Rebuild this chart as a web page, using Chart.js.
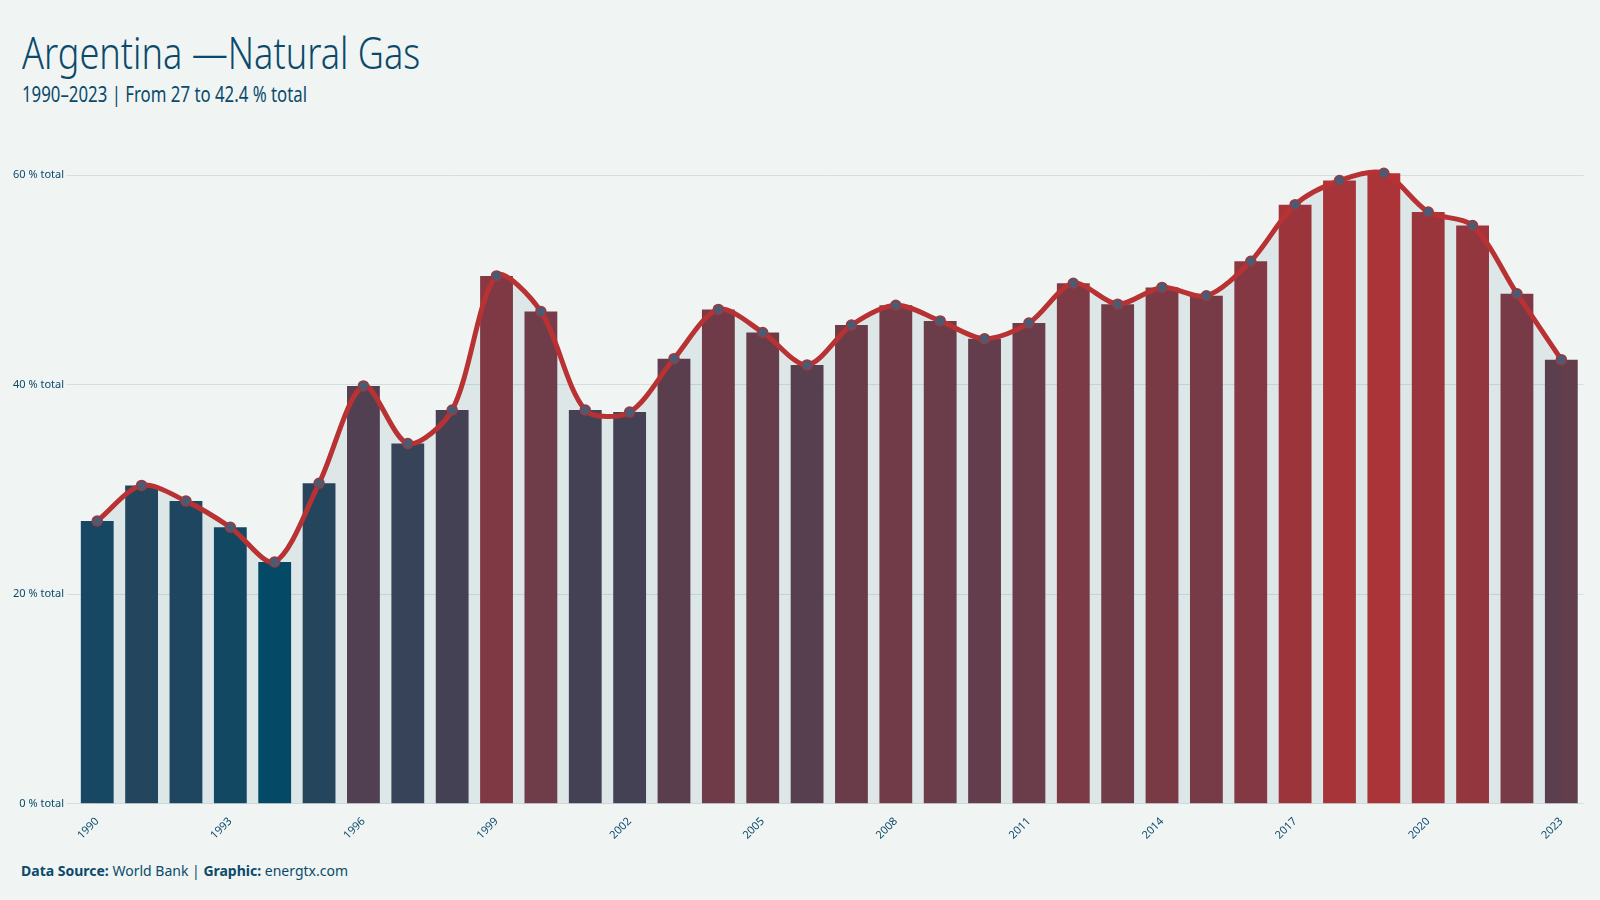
<!DOCTYPE html>
<html><head><meta charset="utf-8">
<script src="https://cdn.jsdelivr.net/npm/chart.js@4.4.0/dist/chart.umd.min.js"></script>
<style>
html,body{margin:0;padding:0;background:#f0f5f4;width:1600px;height:900px;overflow:hidden;font-family:"Noto Sans",sans-serif;color:#0b4a6b}
#title{position:absolute;left:22px;top:22px;font-size:44px;color:#0b4a6b;transform:scaleX(0.82);transform-origin:left top;font-weight:300}
#sub{position:absolute;left:22px;top:80px;font-size:21px;color:#0b4a6b;transform:scaleX(0.8);transform-origin:left top}
#wrap{position:absolute;left:10px;top:150px;width:1580px;height:695px}
#foot{position:absolute;left:21px;top:861px;font-size:14px;color:#0b4a6b}
</style></head><body>
<div id="title">Argentina —Natural Gas</div>
<div id="sub">1990–2023 | From 27 to 42.4 % total</div>
<div id="wrap"><canvas id="c" width="1580" height="695"></canvas></div>
<div id="foot"><b>Data Source:</b> World Bank | <b>Graphic:</b> energtx.com</div>
<script>
const years=[1990,1991,1992,1993,1994,1995,1996,1997,1998,1999,2000,2001,2002,2003,2004,2005,2006,2007,2008,2009,2010,2011,2012,2013,2014,2015,2016,2017,2018,2019,2020,2021,2022,2023];
const values=[27.0,30.4,28.9,26.4,23.1,30.6,39.9,34.4,37.6,50.4,47.0,37.6,37.4,42.5,47.2,45.0,41.9,45.7,47.6,46.1,44.4,45.9,49.7,47.7,49.3,48.5,51.8,57.2,59.5,60.2,56.5,55.2,48.7,42.4];
const yTicks=[0,20,40,60];
const mn=Math.min(...values),mx=Math.max(...values);
const c0=[4,74,104],c1=[184,50,52];
function col(v){const t=(v-mn)/(mx-mn);const c=c0.map((a,i)=>Math.round(a+(c1[i]-a)*t));return `rgb(${c.join(',')})`;}
new Chart(document.getElementById('c'),{
data:{labels:years.map(String),datasets:[
{type:'line',data:values,borderColor:'#b83234',borderWidth:5,tension:0.3,fill:'origin',backgroundColor:'rgba(11,74,107,0.08)',
 pointRadius:5,pointBackgroundColor:'#4a5b73',pointBorderColor:'#9b3a40',pointBorderWidth:1.5,order:0},
{type:'bar',data:values,backgroundColor:values.map(col),barPercentage:0.74,categoryPercentage:1,order:1}
]},
options:{responsive:false,animation:false,maintainAspectRatio:false,
 layout:{padding:{left:0,right:4}},
 plugins:{legend:{display:false},tooltip:{enabled:false}},
 scales:{
  x:{grid:{display:false},border:{display:false},
     ticks:{color:'#0b4a6b',font:{size:11,family:'Noto Sans'},maxRotation:45,minRotation:45,autoSkip:false,
       callback:(v,i)=>((years[i]-1990)%3===0)?years[i]:''}},
  y:{min:0,max:61.5,afterBuildTicks:a=>{a.ticks=yTicks.map(v=>({value:v}));},
     grid:{color:'#d3dedf'},border:{display:false},
     ticks:{color:'#0b4a6b',font:{size:11,family:'Noto Sans'},callback:v=>v+' % total'}}
 }}
});
</script>
</body></html>
